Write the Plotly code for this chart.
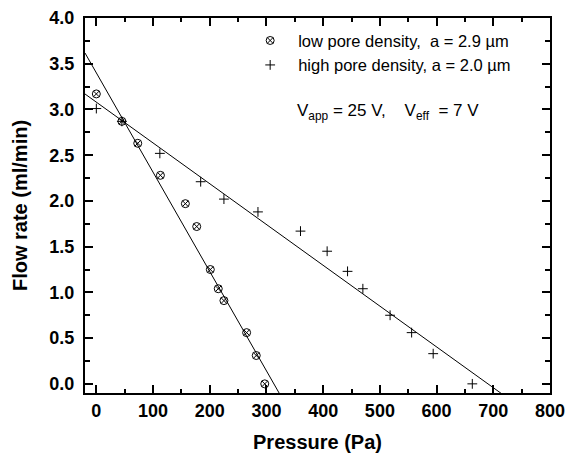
import numpy as np
import plotly.graph_objects as go

# Measured flow rate vs. applied pressure for two membranes
low_pressure = [0, 45, 73, 113, 157, 177, 201, 215, 225, 265, 282, 297]
low_flow = [3.17, 2.87, 2.63, 2.28, 1.97, 1.72, 1.25, 1.04, 0.91, 0.56, 0.31, 0.00]

high_pressure = [0, 45, 112, 184, 225, 285, 360, 407, 443, 470, 518, 556, 594, 663]
high_flow = [3.01, 2.87, 2.52, 2.21, 2.02, 1.88, 1.67, 1.45, 1.23, 1.04, 0.75, 0.56, 0.33, 0.00]

# Linear fits (intercept in ml/min, slope in ml/min per Pa)
low_fit = (3.40, -0.01086)
high_fit = (3.08, -0.00446)

x_range = [-20, 800]
y_range = [-0.1, 4.0]
fit_x = np.array(x_range, dtype=float)

FONT = "Liberation Sans"

fig = go.Figure()

for (b0, b1) in (low_fit, high_fit):
    fig.add_trace(go.Scatter(
        x=fit_x, y=b0 + b1 * fit_x, mode="lines",
        line=dict(color="black", width=1), showlegend=False, hoverinfo="skip",
    ))

fig.add_trace(go.Scatter(
    x=low_pressure, y=low_flow, mode="markers",
    name="low pore density,  a = 2.9 \u00b5m",
    marker=dict(symbol="circle-x-open", size=8, color="black", line=dict(width=1, color="black")),
    cliponaxis=False,
))
fig.add_trace(go.Scatter(
    x=high_pressure, y=high_flow, mode="markers",
    name="high pore density, a = 2.0 \u00b5m",
    marker=dict(symbol="cross-thin-open", size=7, color="black", line=dict(width=1, color="black")),
    cliponaxis=False,
))

axis_common = dict(
    showgrid=False, zeroline=False, showline=True, linecolor="black", linewidth=2,
    mirror="ticks", ticks="inside", ticklen=8, tickwidth=2, tickcolor="black",
    tickfont=dict(family=FONT, size=18, color="black", weight="bold"),
    automargin=False,
)

fig.update_xaxes(
    range=x_range, tick0=0, dtick=100,
    minor=dict(ticks="inside", ticklen=4, tickwidth=2, tickcolor="black", dtick=50, tick0=0, showgrid=False),
    title=dict(text="<b>Pressure (Pa)</b>", font=dict(family=FONT, size=20, color="black"), standoff=15),
    **axis_common,
)
fig.update_yaxes(
    range=y_range, tick0=0, dtick=0.5, tickformat=".1f",
    minor=dict(ticks="inside", ticklen=5, tickwidth=2, tickcolor="black", dtick=0.25, tick0=0, showgrid=False),
    title=dict(text="<b>Flow rate (ml/min)</b>", font=dict(family=FONT, size=20, color="black"), standoff=16),
    ticklabelstandoff=5,
    **axis_common,
)

fig.add_annotation(
    xref="paper", yref="paper", x=0.452, y=0.75, xanchor="left", yanchor="middle",
    text="V<sub>app</sub> = 25 V,    V<sub>eff</sub>  = 7 V", showarrow=False,
    font=dict(family=FONT, size=17, color="black"),
)

fig.update_layout(
    width=568, height=455,
    margin=dict(l=85, r=18, t=18, b=62),
    paper_bgcolor="white", plot_bgcolor="white",
    font=dict(family=FONT, color="black"),
    legend=dict(
        x=0.338, y=0.986, xanchor="left", yanchor="top",
        bgcolor="rgba(0,0,0,0)", font=dict(family=FONT, size=16.5, color="black"),
        itemwidth=46, tracegroupgap=0,
    ),
)

fig.write_html("out.html")
